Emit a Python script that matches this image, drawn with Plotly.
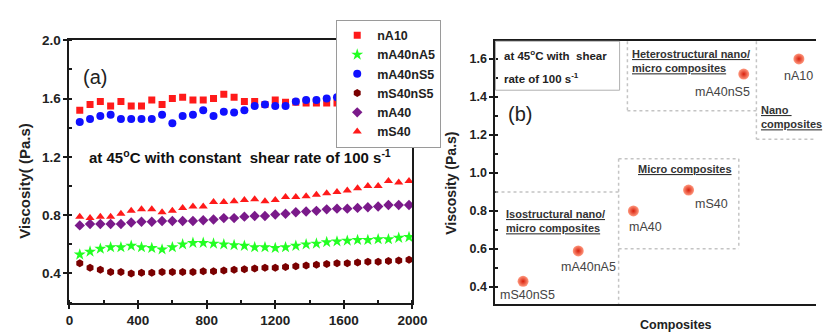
import plotly.graph_objects as go

W, H = 831, 333

# ---------------- data: panel (a) ----------------
shear_time = [60, 120, 180, 240, 300, 360, 420, 480, 540, 600, 660, 720, 780, 840, 900, 960,
              1020, 1080, 1140, 1200, 1260, 1320, 1380, 1440, 1500, 1560, 1620, 1680, 1740,
              1800, 1860, 1920, 1980]

nA10 = [1.52, 1.56, 1.58, 1.55, 1.58, 1.55, 1.55, 1.59, 1.56, 1.60, 1.61, 1.59, 1.59, 1.60, 1.63, 1.61,
        1.58, 1.58, 1.56, 1.59, 1.575, 1.575, 1.57, 1.57, 1.57, 1.57, 1.58, 1.58, 1.58, 1.59, 1.59, 1.59, 1.60]
mA40nA5 = [0.53, 0.55, 0.57, 0.58, 0.58, 0.59, 0.58, 0.575, 0.565, 0.58, 0.60, 0.61, 0.61, 0.605, 0.60, 0.595,
           0.59, 0.58, 0.58, 0.575, 0.58, 0.59, 0.60, 0.605, 0.615, 0.62, 0.625, 0.63, 0.63, 0.635, 0.635, 0.645, 0.65]
mA40nS5 = [1.44, 1.46, 1.48, 1.49, 1.46, 1.46, 1.46, 1.46, 1.49, 1.43, 1.48, 1.49, 1.52, 1.48, 1.51, 1.505,
           1.52, 1.55, 1.56, 1.55, 1.55, 1.58, 1.59, 1.59, 1.60, 1.61, 1.61, 1.61, 1.62, 1.62, 1.62, 1.63, 1.63]
mS40nS5 = [0.47, 0.44, 0.425, 0.41, 0.41, 0.40, 0.405, 0.405, 0.41, 0.41, 0.41, 0.41, 0.415, 0.415, 0.42, 0.425,
           0.43, 0.435, 0.44, 0.44, 0.445, 0.45, 0.455, 0.46, 0.465, 0.47, 0.47, 0.475, 0.48, 0.48, 0.485, 0.49, 0.495]
mA40 = [0.73, 0.74, 0.74, 0.74, 0.74, 0.75, 0.755, 0.755, 0.76, 0.76, 0.76, 0.76, 0.765, 0.77, 0.78, 0.78,
        0.79, 0.795, 0.795, 0.805, 0.81, 0.82, 0.825, 0.83, 0.84, 0.845, 0.845, 0.85, 0.855, 0.86, 0.87, 0.87, 0.87]
mS40 = [0.79, 0.78, 0.79, 0.79, 0.81, 0.83, 0.84, 0.84, 0.82, 0.83, 0.85, 0.86, 0.86, 0.89, 0.89, 0.895,
        0.905, 0.91, 0.895, 0.905, 0.925, 0.925, 0.93, 0.94, 0.95, 0.96, 0.97, 0.985, 1.0, 1.0, 1.035, 1.025, 1.035]

series_names = ["nA10", "mA40nA5", "mA40nS5", "mS40nS5", "mA40", "mS40"]
series_values = [nA10, mA40nA5, mA40nS5, mS40nS5, mA40, mS40]
series_colors = ["#ff1a1a", "#22ff22", "#1010ff", "#7a0000", "#7a1a8a", "#ff1a1a"]
series_symbols = ["square", "star", "circle", "hexagon", "diamond", "triangle-up"]
series_sizes = [7, 9, 8, 8, 8, 8]

# ---------------- data: panel (b) ----------------
composites = ["mS40nS5", "mA40nA5", "mA40", "mS40", "mA40nS5", "nA10"]
composite_visc = [0.43, 0.59, 0.80, 0.91, 1.52, 1.60]
label_dx = [4, 10, 12, 23, -21, 0]
label_dy = [-14, -16, -16, -14, -18, -17]

FONT = "Arial, Liberation Sans, sans-serif"


def px(x):
    return x / W


def py(y):
    return 1 - y / H


fig = go.Figure()

for name, vals, col, sym, sz in zip(series_names, series_values, series_colors, series_symbols, series_sizes):
    fig.add_trace(go.Scatter(
        x=shear_time, y=vals, mode="markers", name=name,
        marker=dict(color=col, symbol=sym, size=sz, line=dict(width=0)),
        xaxis="x", yaxis="y"))

fig.add_trace(go.Scatter(
    x=list(range(len(composites))), y=composite_visc, mode="markers", showlegend=False,
    marker=dict(color="#ff9a80", size=11, gradient=dict(type="radial", color="#d8200c"),
                line=dict(width=0)),
    xaxis="x2", yaxis="y2"))

axis_common = dict(showline=True, linecolor="#1a1a1a", linewidth=2, mirror=True,
                   showgrid=False, zeroline=False, tickcolor="#1a1a1a", tickwidth=2,
                   ticks="outside", ticklen=4,
                   tickfont=dict(family=FONT, size=13.5, color="#222222", weight="bold"))

shapes = []
annotations = []


def note(x, y, text, size, xanchor="center", yanchor="middle", **kw):
    annotations.append(dict(xref="paper", yref="paper", x=px(x), y=py(y), text=text,
                            xanchor=xanchor, yanchor=yanchor, showarrow=False,
                            font=dict(family=FONT, size=size, color=kw.pop("color", "#222222")), **kw))


# panel (a) labels
note(93, 71, "(a)", 20)
note(85, 153, "<b>at 45<sup>o</sup>C with constant  shear rate of 100 s<sup>-1</sup></b>", 15,
     xanchor="left", color="#111111")
note(21, 178, "<b>Viscosity( (Pa.s)</b>", 15, textangle=-90)

# panel (b) labels
note(528, 109, "(b)", 20)
note(458, 180, "<b>Viscosity (Pa.s)</b>", 14, textangle=-90)
note(688, 325, "<b>Composites</b>", 12.5)
note(510, 49, "<b>at 45<sup>o</sup>C with  shear</b>", 11.5, xanchor="left")
note(510, 73, "<b>rate of 100 s<sup>-1</sup></b>", 11.5, xanchor="left")

UL = '<span style="text-decoration:underline">'
gc = "#333333"
note(641, 55, f"<b>{UL}Heterostructural nano/</span><br>{UL}micro composites</span></b>", 11,
     xanchor="left", align="left", color=gc)
note(773, 112, f"<b>{UL}Nano </span><br>{UL}composites</span></b>", 11,
     xanchor="left", align="left", color=gc)
note(697, 165, f"<b>{UL}Micro composites</span></b>", 11, color=gc)
note(512, 219, f"<b>{UL}Isostructural nano/</span><br>{UL}micro composites</span></b>", 11,
     xanchor="left", align="left", color=gc)

for i, (c, v) in enumerate(zip(composites, composite_visc)):
    annotations.append(dict(xref="x2", yref="y2", x=i, y=v, text=c, showarrow=False,
                            xanchor="center", yanchor="middle",
                            xshift=label_dx[i], yshift=label_dy[i],
                            font=dict(family=FONT, size=12.5, color="#444444")))

# boxes in panel (b)
shapes.append(dict(type="rect", xref="paper", yref="paper", x0=px(503), x1=px(630), y0=py(85), y1=py(35),
                   line=dict(color="#b0b0b0", width=1)))
dot = dict(color="#c4c4c4", width=1.5, dash="dot")
for (x0, y0, x1, y1) in [(638, 35, 638, 106), (638, 106, 770, 106),
                         (770, 35, 770, 135), (770, 135, 831, 135),
                         (629, 155, 752, 155), (752, 155, 752, 247), (629, 247, 752, 247), (629, 155, 629, 303),
                         (503, 189, 629, 189)]:
    shapes.append(dict(type="line", xref="paper", yref="paper", x0=px(x0), x1=px(x1), y0=py(y0), y1=py(y1),
                       line=dot))

fig.update_layout(
    width=W, height=H, margin=dict(l=0, r=0, t=0, b=0),
    paper_bgcolor="white", plot_bgcolor="white",
    font=dict(family=FONT),
    xaxis=dict(axis_common, domain=[px(67), px(418)], range=[0, 2000], dtick=400, tick0=0,
               minor=dict(ticks="inside", dtick=200, ticklen=3, tickcolor="#1a1a1a", tickwidth=2),
               anchor="y"),
    yaxis=dict(axis_common, domain=[py(302), py(34)], range=[0.2, 2.0], dtick=0.4, tick0=0.4,
               tickformat=".1f",
               minor=dict(ticks="inside", dtick=0.2, tick0=0.2, ticklen=3, tickcolor="#1a1a1a", tickwidth=2),
               anchor="x"),
    xaxis2=dict(showline=True, linecolor="#1a1a1a", linewidth=2, mirror=True, showgrid=False,
                zeroline=False, showticklabels=False, ticks="", domain=[px(503), 1.0],
                range=[-0.5, 5.31], anchor="y2"),
    yaxis2=dict(axis_common, domain=[py(303), py(35)], range=[0.3125, 1.6927], dtick=0.2, tick0=0.4,
                tickformat=".1f", mirror=False,
                tickfont=dict(family=FONT, size=12.5, color="#222222", weight="bold"),
                minor=dict(ticks="inside", dtick=0.1, tick0=0.3, ticklen=3, tickcolor="#1a1a1a", tickwidth=2),
                anchor="x2"),
    legend=dict(x=px(340), y=py(13), xanchor="left", yanchor="top",
                bgcolor="white", bordercolor="#9a9a9a", borderwidth=1,
                font=dict(family=FONT, size=12.5, color="#222222", weight="bold"),
                tracegroupgap=0, itemwidth=30),
    shapes=shapes, annotations=annotations,
)

fig.write_html("out.html")
